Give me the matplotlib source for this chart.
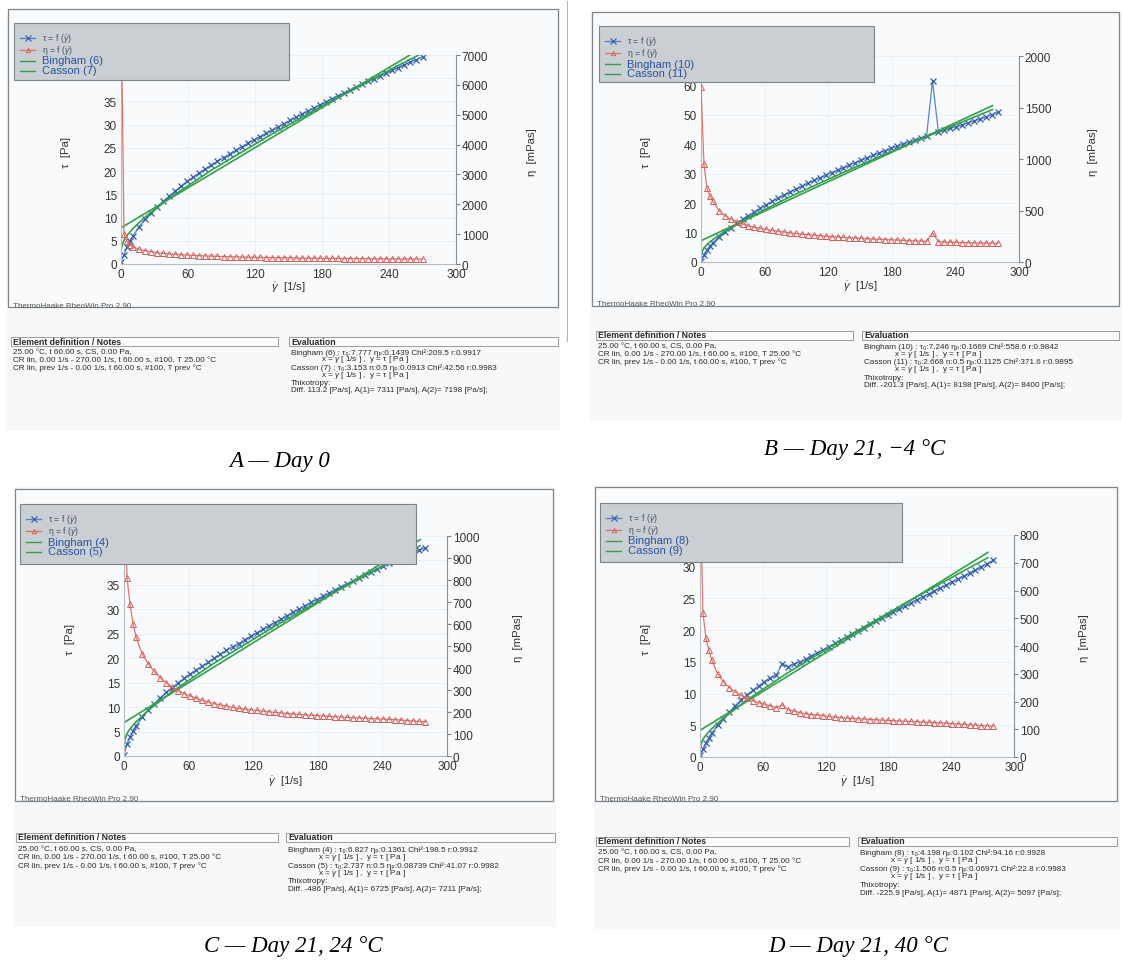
import matplotlib
matplotlib.use("Agg")
import matplotlib.pyplot as plt
import numpy as np
from matplotlib.lines import Line2D
from matplotlib.patches import Rectangle

W_PX, H_PX = 1122, 970

plt.rcParams["font.family"] = ["Liberation Sans", "DejaVu Sans"]
plt.rcParams["mathtext.fontset"] = "custom"
plt.rcParams["mathtext.rm"] = "Liberation Sans"
plt.rcParams["mathtext.it"] = "Liberation Sans:italic"
plt.rcParams["mathtext.bf"] = "Liberation Sans:bold"

# ---- data ----
GAMMA_A = [0, 2.7, 5.4, 8.1, 10.8, 16.2, 21.6, 27.0, 32.4, 37.8, 43.2, 48.6, 54.0, 59.4, 64.8, 70.2,
	75.6, 81.0, 86.4, 91.8, 97.2, 102.6, 108.0, 113.4, 118.8, 124.2, 129.6, 135.0, 140.4, 145.8,
	151.2, 156.6, 162.0, 167.4, 172.8, 178.2, 183.6, 189.0, 194.4, 199.8, 205.2, 210.6, 216.0,
	221.4, 226.8, 232.2, 237.6, 243.0, 248.4, 253.8, 259.2, 264.6, 270.0]
TAU_A = [0.5, 2.0, 3.6, 5.0, 6.1, 8.0, 9.6, 11.0, 12.3, 13.5, 14.6, 15.7, 16.8, 17.8, 18.7, 19.6,
	20.5, 21.3, 22.1, 22.9, 23.7, 24.5, 25.2, 26.0, 26.7, 27.4, 28.1, 28.8, 29.5, 30.2, 30.9, 31.6,
	32.3, 32.9, 33.6, 34.3, 34.9, 35.6, 36.2, 36.8, 37.5, 38.1, 38.7, 39.3, 39.9, 40.5, 41.1, 41.7,
	42.3, 42.9, 43.5, 44.0, 44.6]
ETA_A = [9000, 1000, 760, 640, 570, 495, 445, 410, 380, 357, 338, 323, 311, 300, 289, 279, 271, 263,
	256, 249, 244, 239, 233, 229, 225, 221, 217, 213, 210, 207, 204, 202, 199, 197, 194, 192, 190,
	188, 186, 184, 183, 181, 179, 178, 176, 174, 173, 172, 170, 169, 168, 166, 165]
FIT_X_A = [0, 2.7, 5.4, 10.8, 21.6, 43.2, 81, 135, 189, 243, 270]
BINGHAM_A = [7.78, 8.17, 8.55, 9.33, 10.89, 13.99, 19.43, 27.20, 34.97, 42.74, 46.63]
CASSON_A = [3.15, 5.16, 6.14, 7.67, 10.11, 14.15, 20.21, 27.95, 35.16, 42.07, 45.44]

GAMMA_BCD = [0, 2.8, 5.6, 8.4, 11.2, 16.8, 22.4, 28.0, 33.6, 39.2, 44.8, 50.4, 56.0, 61.6, 67.2,
	72.8, 78.4, 84.0, 89.6, 95.2, 100.8, 106.4, 112.0, 117.6, 123.2, 128.8, 134.4, 140.0, 145.6,
	151.2, 156.8, 162.4, 168.0, 173.6, 179.2, 184.8, 190.4, 196.0, 201.6, 207.2, 212.8, 218.4,
	224.0, 229.6, 235.2, 240.8, 246.4, 252.0, 257.6, 263.2, 268.8, 274.4, 280.0]
FIT_X_BCD = [0, 2.8, 5.6, 11.2, 22.4, 44.8, 84, 140, 196, 252, 275]

TAU_B = [0.5, 2.4, 4.0, 5.3, 6.5, 8.4, 10.1, 11.7, 13.1, 14.5, 15.8, 17.0, 18.3, 19.5, 20.6, 21.7,
	22.8, 23.8, 24.8, 25.8, 26.8, 27.7, 28.6, 29.5, 30.4, 31.3, 32.1, 33.0, 33.8, 34.6, 35.4, 36.2,
	37.0, 37.8, 38.6, 39.3, 40.0, 40.7, 41.4, 42.1, 42.8, 61.5, 44.1, 44.7, 45.4, 46.0, 46.6, 47.3,
	47.9, 48.6, 49.3, 50.1, 51.0]
ETA_B = [1700, 950, 720, 640, 590, 500, 450, 418, 390, 370, 352, 337, 327, 317, 307, 298, 291, 283,
	277, 271, 266, 260, 255, 251, 247, 243, 239, 236, 232, 229, 226, 223, 220, 218, 215, 213, 210,
	208, 205, 203, 201, 282, 197, 195, 193, 191, 189, 188, 186, 185, 184, 183, 182]
BINGHAM_B = [7.25, 7.71, 8.18, 9.12, 10.98, 14.72, 21.27, 30.61, 39.96, 49.30, 53.14]
CASSON_B = [2.67, 4.82, 5.89, 7.60, 10.37, 15.04, 22.16, 31.38, 40.06, 48.41, 51.78]

TAU_C = [0.3, 2.4, 3.9, 5.1, 6.2, 7.9, 9.4, 10.7, 11.9, 13.0, 14.0, 15.0, 15.9, 16.8, 17.6, 18.4,
	19.2, 20.0, 20.8, 21.6, 22.3, 23.0, 23.8, 24.5, 25.2, 25.9, 26.6, 27.3, 28.0, 28.7, 29.4, 30.0,
	30.7, 31.4, 32.0, 32.7, 33.3, 33.9, 34.6, 35.2, 35.8, 36.4, 37.0, 37.6, 38.2, 38.8, 39.4, 39.9,
	40.5, 41.0, 41.6, 42.1, 42.6]
ETA_C = [1400, 810, 690, 600, 540, 465, 420, 385, 356, 333, 313, 297, 284, 273, 262, 253, 245, 238,
	232, 227, 221, 216, 213, 210, 207, 204, 201, 198, 196, 193, 191, 189, 187, 185, 184, 182, 180,
	179, 177, 176, 174, 173, 171, 170, 169, 168, 166, 165, 163, 161, 159, 157, 155]
BINGHAM_C = [6.83, 7.21, 7.59, 8.35, 9.88, 12.92, 18.26, 25.88, 33.50, 41.12, 44.25]
CASSON_C = [2.74, 4.62, 5.54, 6.99, 9.32, 13.20, 19.04, 26.54, 33.56, 40.29, 42.99]

TAU_D = [0.3, 1.2, 2.2, 3.0, 3.8, 5.0, 6.0, 7.1, 8.1, 9.0, 9.8, 10.5, 11.2, 11.9, 12.5, 12.9, 14.7,
	14.2, 14.7, 14.9, 15.4, 15.9, 16.4, 16.9, 17.4, 17.9, 18.4, 18.9, 19.4, 19.9, 20.4, 20.9, 21.4,
	21.9, 22.4, 22.9, 23.3, 23.8, 24.3, 24.8, 25.3, 25.7, 26.2, 26.7, 27.1, 27.6, 28.1, 28.5, 29.0,
	29.5, 30.0, 30.5, 31.0]
ETA_D = [1000, 520, 430, 385, 350, 300, 270, 250, 235, 222, 212, 203, 196, 190, 184, 178, 188, 170,
	166, 160, 156, 153, 151, 149, 146, 144, 142, 140, 139, 138, 137, 135, 134, 133, 132, 131, 130,
	129, 128, 127, 126, 125, 124, 123, 122, 120, 119, 118, 116, 115, 113, 112, 110]
BINGHAM_D = [4.20, 4.48, 4.77, 5.34, 6.48, 8.77, 12.77, 18.48, 24.19, 29.90, 32.25]
CASSON_D = [1.51, 2.79, 3.43, 4.46, 6.13, 8.97, 13.30, 18.93, 24.24, 29.36, 31.42]

X_TICKS = [0, 60, 120, 180, 240, 300]

NOTES_LINES = [
	"25.00 °C, t 60.00 s, CS, 0.00 Pa,",
	"CR lin, 0.00 1/s - 270.00 1/s, t 60.00 s, #100, T 25.00 °C",
	"CR lin, prev 1/s - 0.00 1/s, t 60.00 s, #100, T prev °C",
]
AXES_LINE = r"x = $\dot{\gamma}$ [ 1/s ] ,  y = τ [ Pa ]"

EVAL_A = [
	"Bingham (6) : τ₀:7.777 ηₚ:0.1439 Chi²:209.5 r:0.9917",
	"Casson (7) : τ₀:3.153 n:0.5 ηₚ:0.0913 Chi²:42.56 r:0.9983",
	"Diff. 113.2 [Pa/s], A(1)= 7311 [Pa/s], A(2)= 7198 [Pa/s];",
]
EVAL_B = [
	"Bingham (10) : τ₀:7.246 ηₚ:0.1669 Chi²:558.6 r:0.9842",
	"Casson (11) : τ₀:2.668 n:0.5 ηₚ:0.1125 Chi²:371.6 r:0.9895",
	"Diff. -201.3 [Pa/s], A(1)= 8198 [Pa/s], A(2)= 8400 [Pa/s];",
]
EVAL_C = [
	"Bingham (4) : τ₀:6.827 ηₚ:0.1361 Chi²:198.5 r:0.9912",
	"Casson (5) : τ₀:2.737 n:0.5 ηₚ:0.08739 Chi²:41.07 r:0.9982",
	"Diff. -486 [Pa/s], A(1)= 6725 [Pa/s], A(2)= 7211 [Pa/s];",
]
EVAL_D = [
	"Bingham (8) : τ₀:4.198 ηₚ:0.102 Chi²:94.16 r:0.9928",
	"Casson (9) : τ₀:1.506 n:0.5 ηₚ:0.06971 Chi²:22.8 r:0.9983",
	"Diff. -225.9 [Pa/s], A(1)= 4871 [Pa/s], A(2)= 5097 [Pa/s];",
]

# ---- colours ----
TAU_LINE = "#5583c9"
TAU_MARK = "#2f5caa"
ETA_LINE = "#e07570"
ETA_MARK = "#d0605b"
FIT_GREEN = "#33a04c"
PAGE_TINT = "#f6f8f9"
LEGEND_FACE = "#c9cfd2"
TEXT_DARK = "#2b2b2b"

TABLE_FS = 5.9
HEADER_FS = 6.3


def _fx(x):
	return x / W_PX


def _fy(y):
	return 1 - y / H_PX


def _add_rect(fig, x0, y0, x1, y1, **kw):
	rect = Rectangle((_fx(x0), _fy(y1)), (x1 - x0) / W_PX, (y1 - y0) / H_PX,
		transform=fig.transFigure, **kw)
	fig.patches.append(rect)


def _add_line(fig, xs, ys, **kw):
	fig.lines.append(Line2D([_fx(x) for x in xs], [_fy(y) for y in ys], transform=fig.transFigure, **kw))


def _add_text(fig, x, y, s, **kw):
	return fig.text(_fx(x), _fy(y), s, **kw)


def _draw_legend(fig, box, fit_numbers):
	x0, y0, x1, y1 = box
	_add_rect(fig, x0, y0, x1, y1, facecolor=LEGEND_FACE, edgecolor="#7d8489", linewidth=0.8, zorder=5)
	labels = [
		r"τ = f ($\dot{\gamma}$)",
		r"η = f ($\dot{\gamma}$)",
		f"Bingham ({fit_numbers[0]})",
		f"Casson ({fit_numbers[1]})",
	]
	styles = [
		dict(color=TAU_LINE, marker="x", markeredgecolor=TAU_MARK, markersize=4, markeredgewidth=0.8),
		dict(color=ETA_LINE, marker="^", markerfacecolor="none", markeredgecolor=ETA_MARK,
			markersize=3.2, markeredgewidth=0.6),
		dict(color=FIT_GREEN),
		dict(color=FIT_GREEN),
	]
	offsets = [14.5, 26.5, 37.5, 47.5]
	for label, style, off in zip(labels, styles, offsets):
		y = y0 + off
		_add_line(fig, [x0 + 6, x0 + 21], [y, y], linewidth=1.0, zorder=6, color=style["color"])
		if "marker" in style:
			mark_style = {k: v for k, v in style.items() if k != "color"}
			_add_line(fig, [x0 + 13.5], [y], linestyle="none", zorder=7, **mark_style)
		is_fit = label.startswith(("Bingham", "Casson"))
		_add_text(fig, x0 + 28, y, label, fontsize=8.0 if is_fit else 6.3,
			color="#2b53a3" if is_fit else "#4a5466", va="center", ha="left", zorder=7)


def _draw_tables(fig, p, eval_lines):
	yc = p["header_y"]
	step = p["line_step"]
	for (bx0, bx1), title in ((p["left_box"], "Element definition / Notes"), (p["right_box"], "Evaluation")):
		_add_rect(fig, bx0, yc - 4.5, bx1, yc + 4.5, facecolor="#fbfbfb", edgecolor="#8e8e8e",
			linewidth=0.6, zorder=2)
		_add_text(fig, bx0 + 2, yc, title, fontsize=HEADER_FS, fontweight="bold", color=TEXT_DARK,
			va="center", ha="left", zorder=3)

	lx = p["left_box"][0] + 2
	for i, line in enumerate(NOTES_LINES):
		_add_text(fig, lx, p["line_y0"] + i * step, line, fontsize=TABLE_FS, color=TEXT_DARK,
			va="center", ha="left")

	rx = p["right_box"][0] + 2
	right_lines = [
		(eval_lines[0], 0),
		(AXES_LINE, 30),
		(eval_lines[1], 0),
		(AXES_LINE, 30),
		("Thixotropy:", 0),
		(eval_lines[2], 0),
	]
	for i, (line, indent) in enumerate(right_lines):
		_add_text(fig, rx + indent, p["line_y0"] + i * step, line, fontsize=TABLE_FS,
			color=TEXT_DARK, va="center", ha="left")


def _draw_panel(fig, p):
	# scanned page tint and chart frame
	tx0, ty0, tx1, ty1 = p["tint"]
	_add_rect(fig, tx0, ty0, tx1, ty1, facecolor=PAGE_TINT, edgecolor="none", zorder=-3)
	fx0, fy0, fx1, fy1 = p["frame"]
	_add_rect(fig, fx0, fy0, fx1, fy1, facecolor="#f9fafb", edgecolor="#7f858a", linewidth=0.9, zorder=-2)
	_add_text(fig, fx0 + 5, fy1 - 2, "ThermoHaake RheoWin Pro 2.90", fontsize=5.8, color="#555555",
		va="center", ha="left", zorder=1)

	ax0, ay0, ax1, ay1 = p["axes"]
	ax = fig.add_axes([_fx(ax0), _fy(ay1), (ax1 - ax0) / W_PX, (ay1 - ay0) / H_PX])
	ax.set_facecolor("none")
	ax.set_xlim(0, p["x_max"])
	ax.set_ylim(0, p["tau_max"])
	ax.set_xticks(X_TICKS)
	tau_ticks = np.arange(0, p["tau_max"] + 0.1, p["tau_step"])
	ax.set_yticks(tau_ticks)
	# labels that sit under the legend box are not visible in the printout
	legend_bottom = p["legend"][3]
	tick_labels = []
	for v in tau_ticks:
		y_px = ay1 - v / p["tau_max"] * (ay1 - ay0)
		tick_labels.append("" if y_px < legend_bottom + 3 else f"{v:g}")
	ax.set_yticklabels(tick_labels)
	ax.tick_params(axis="both", length=0, labelsize=8.5, labelcolor="#333333", pad=3)
	ax.grid(True, color="#e8ecef", linewidth=0.5)
	for side in ("top", "right"):
		ax.spines[side].set_visible(False)
	for side in ("left", "bottom"):
		ax.spines[side].set_color("#b7bcc0")
		ax.spines[side].set_linewidth(0.8)

	ax.plot(p["gamma"], p["tau"], "-", color=TAU_LINE, linewidth=0.9, marker="x", markersize=5,
		markeredgewidth=0.9, markeredgecolor=TAU_MARK)
	ax.plot(p["fit_x"], p["bingham"], color=FIT_GREEN, linewidth=1.2)
	ax.plot(p["fit_x"], p["casson"], color=FIT_GREEN, linewidth=1.2)

	ax2 = ax.twinx()
	ax2.set_ylim(0, p["eta_max"])
	ax2.set_yticks(np.arange(0, p["eta_max"] + 0.1, p["eta_step"]))
	ax2.tick_params(axis="y", length=3, color="#7d8287", direction="out", labelsize=8.5,
		labelcolor="#333333", pad=1)
	for side in ("top", "left", "bottom"):
		ax2.spines[side].set_visible(False)
	ax2.spines["right"].set_color("#8a8f94")
	ax2.spines["right"].set_linewidth(0.8)
	ax2.plot(p["gamma"], p["eta"], "-", color=ETA_LINE, linewidth=0.9, marker="^", markersize=4,
		markerfacecolor="none", markeredgecolor=ETA_MARK, markeredgewidth=0.7)

	mid_x = (ax0 + ax1) / 2
	_add_text(fig, mid_x, p["xlabel_y"], r"$\dot{\gamma}$  [1/s]", fontsize=8.2, color="#333333",
		ha="center", va="center")
	_add_text(fig, p["tau_label"][0], p["tau_label"][1], "τ  [Pa]", fontsize=8.2, color="#333333",
		rotation=90, ha="center", va="center")
	_add_text(fig, p["eta_label"][0], p["eta_label"][1], "η  [mPas]", fontsize=8.2, color="#333333",
		rotation=90, ha="center", va="center")

	_draw_legend(fig, p["legend"], p["fit_numbers"])
	_draw_tables(fig, p, p["eval"])

	_add_text(fig, p["caption"][0], p["caption"][1], p["caption_text"], fontsize=16.5,
		family="Liberation Serif", style="italic", color="black", ha="center", va="center")


PANELS = [
	dict(tint=(7, 10, 560, 432), frame=(8, 10, 558, 308), legend=(14, 24, 289, 81),
		axes=(121, 56, 456, 265), x_max=300, tau_max=45, tau_step=5, eta_max=7000, eta_step=1000,
		gamma=GAMMA_A, tau=TAU_A, eta=ETA_A, fit_x=FIT_X_A, bingham=BINGHAM_A, casson=CASSON_A,
		fit_numbers=(6, 7), xlabel_y=288, tau_label=(66, 152), eta_label=(532, 152),
		left_box=(11, 278), right_box=(289, 558), header_y=342.5, line_y0=353, line_step=7.6,
		eval=EVAL_A, caption=(280, 462), caption_text="A — Day 0"),
	dict(tint=(590, 13, 1122, 422), frame=(592, 13, 1119, 307), legend=(599, 27, 874, 83),
		axes=(701, 57, 1019, 263), x_max=300, tau_max=70, tau_step=10, eta_max=2000, eta_step=500,
		gamma=GAMMA_BCD, tau=TAU_B, eta=ETA_B, fit_x=FIT_X_BCD, bingham=BINGHAM_B, casson=CASSON_B,
		fit_numbers=(10, 11), xlabel_y=287, tau_label=(646, 152), eta_label=(1093, 152),
		left_box=(596, 853), right_box=(862, 1119), header_y=336, line_y0=347, line_step=7.8,
		eval=EVAL_B, caption=(855, 449), caption_text="B — Day 21, −4 °C"),
	dict(tint=(14, 488, 556, 928), frame=(15, 490, 553, 802), legend=(20, 505, 416, 565),
		axes=(124, 537, 447, 757), x_max=300, tau_max=45, tau_step=5, eta_max=1000, eta_step=100,
		gamma=GAMMA_BCD, tau=TAU_C, eta=ETA_C, fit_x=FIT_X_BCD, bingham=BINGHAM_C, casson=CASSON_C,
		fit_numbers=(4, 5), xlabel_y=782, tau_label=(70, 640), eta_label=(518, 638),
		left_box=(16, 278), right_box=(286, 555), header_y=838, line_y0=850, line_step=8.0,
		eval=EVAL_C, caption=(293, 947), caption_text="C — Day 21, 24 °C"),
	dict(tint=(594, 486, 1120, 930), frame=(595, 488, 1117, 802), legend=(600, 504, 902, 563),
		axes=(700, 536, 1014, 758), x_max=300, tau_max=35, tau_step=5, eta_max=800, eta_step=100,
		gamma=GAMMA_BCD, tau=TAU_D, eta=ETA_D, fit_x=FIT_X_BCD, bingham=BINGHAM_D, casson=CASSON_D,
		fit_numbers=(8, 9), xlabel_y=782, tau_label=(646, 640), eta_label=(1084, 638),
		left_box=(596, 849), right_box=(858, 1117), header_y=842, line_y0=853, line_step=8.2,
		eval=EVAL_D, caption=(858, 947), caption_text="D — Day 21, 40 °C"),
]


if __name__ == "__main__":
	fig = plt.figure(figsize=(W_PX / 100, H_PX / 100), dpi=100)
	fig.patch.set_facecolor("white")
	# edge of the second scanned page, left of panel B
	_add_line(fig, [567, 567], [2, 342], color="#b5b8bb", linewidth=0.8, zorder=-1)
	for panel in PANELS:
		_draw_panel(fig, panel)
	fig.savefig("out.png", dpi=100)
	plt.close(fig)
